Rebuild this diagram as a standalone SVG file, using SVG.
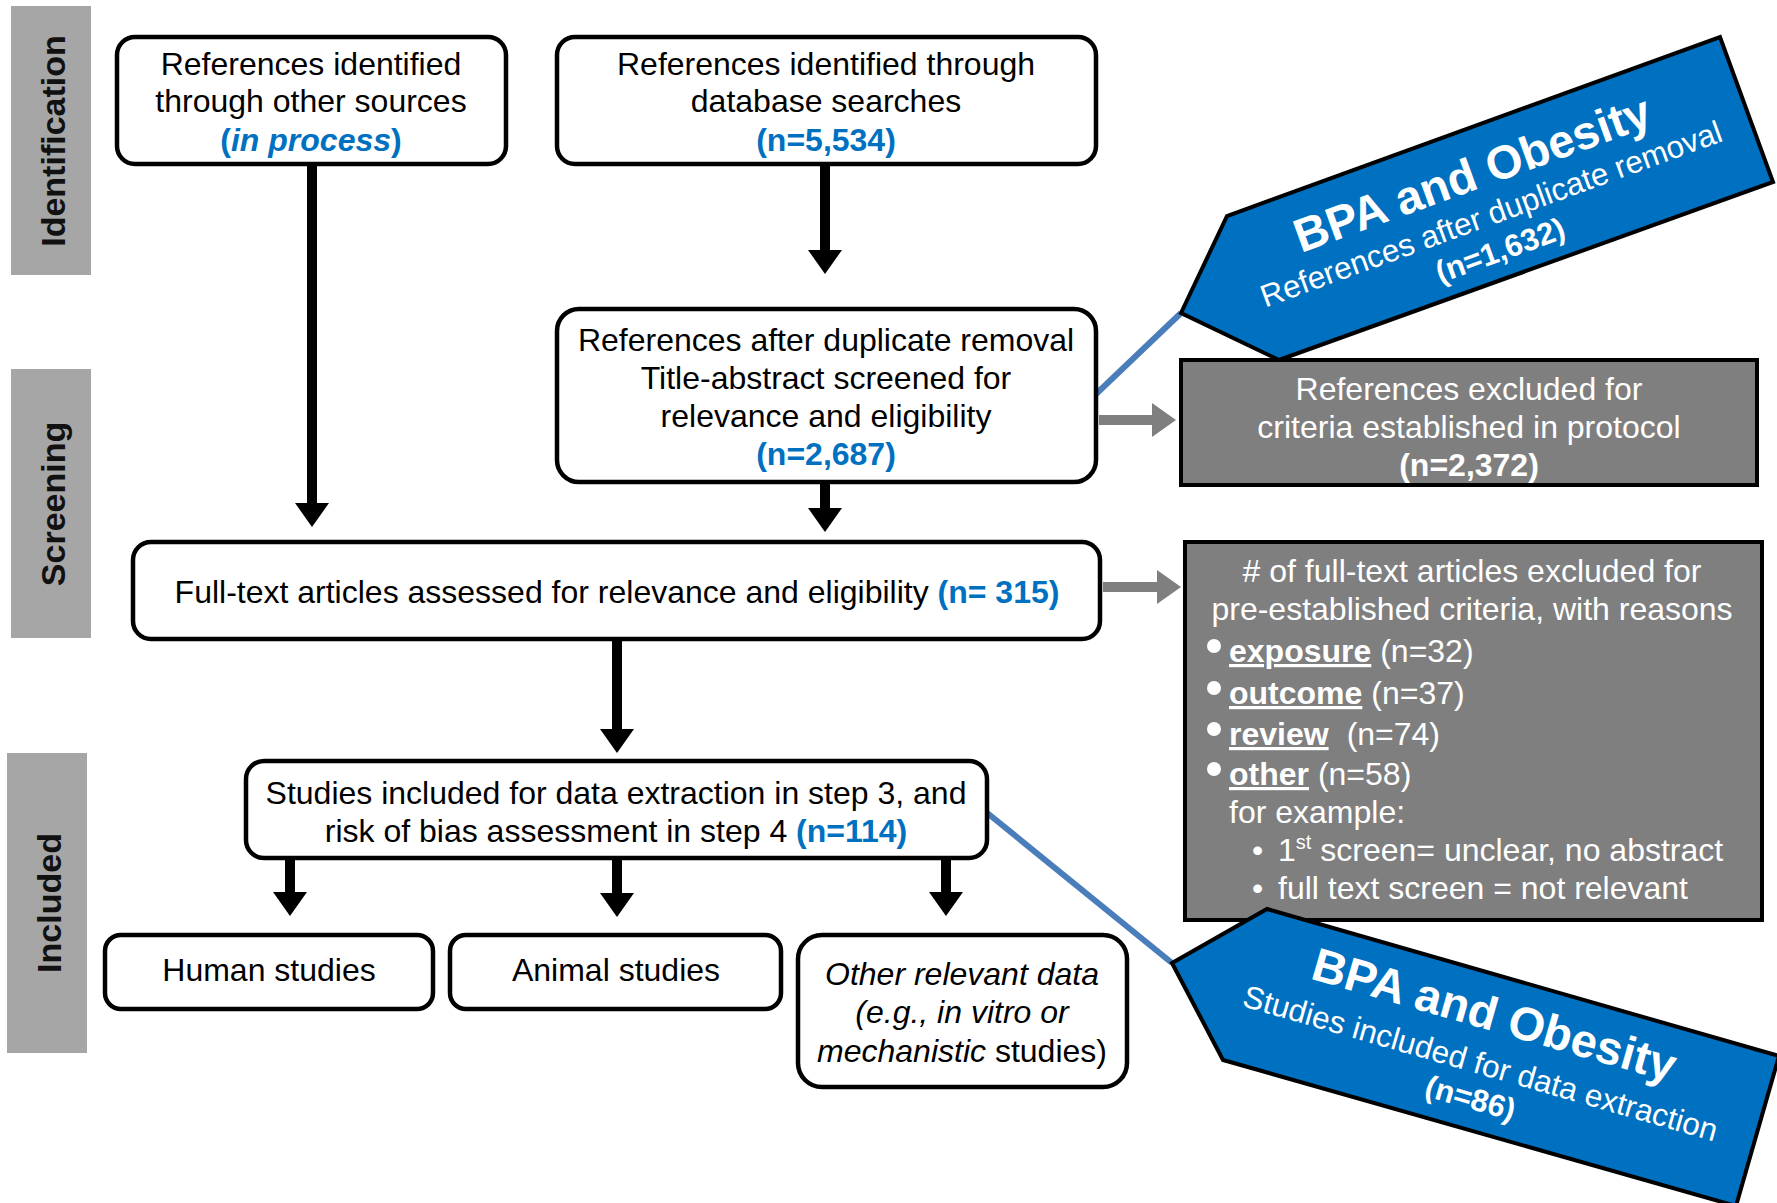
<svg xmlns="http://www.w3.org/2000/svg" width="1777" height="1203" viewBox="0 0 1777 1203">
<style>
text{font-family:"Liberation Sans",Arial,sans-serif;}
.box{fill:#fff;stroke:#000;stroke-width:4.5}
.lab{fill:#a6a6a6}
.labt{font-size:34px;font-weight:bold;fill:#111;text-anchor:middle}
.t{font-size:32px;fill:#000;text-anchor:middle}
.n{fill:#0070c0;font-weight:bold}
.exc{fill:#7f7f7f;stroke:#000;stroke-width:4}
.w{font-size:32px;fill:#fff}
.wc{text-anchor:middle}
.u{font-weight:bold;text-decoration:underline}
.tag{fill:#0070c0;stroke:#000;stroke-width:4;stroke-linejoin:miter}
.tt{fill:#fff;text-anchor:middle}
.ar{stroke:#000;stroke-width:10;fill:none;marker-end:url(#ah)}
.gr{stroke:#7f7f7f;stroke-width:10;fill:none;marker-end:url(#gh)}
.bl{stroke:#4a7ebb;stroke-width:6;fill:none}
</style>
<defs>
<marker id="ah" markerUnits="userSpaceOnUse" markerWidth="26" markerHeight="36" refX="0" refY="17" orient="auto" overflow="visible"><path d="M0,0 L24,17 L0,34 Z" fill="#000"/></marker>
<marker id="gh" markerUnits="userSpaceOnUse" markerWidth="26" markerHeight="36" refX="0" refY="17" orient="auto" overflow="visible"><path d="M0,0 L24,17 L0,34 Z" fill="#7f7f7f"/></marker>
</defs>

<g id="lab-identification"><rect class="lab" x="11" y="6" width="80" height="269"/><text class="labt" transform="translate(65,141) rotate(-90)">Identification</text></g>
<g id="lab-screening"><rect class="lab" x="11" y="369" width="80" height="269"/><text class="labt" transform="translate(65,504) rotate(-90)">Screening</text></g>
<g id="lab-included"><rect class="lab" x="7" y="753" width="80" height="300"/><text class="labt" transform="translate(61,903) rotate(-90)">Included</text></g>

<g id="connectors">
<line class="ar" x1="312" y1="164" x2="312" y2="503"/>
<line class="ar" x1="825" y1="164" x2="825" y2="250"/>
<line class="ar" x1="825" y1="482" x2="825" y2="508"/>
<line class="ar" x1="617" y1="639" x2="617" y2="729"/>
<line class="ar" x1="290" y1="858" x2="290" y2="892"/>
<line class="ar" x1="617" y1="858" x2="617" y2="893"/>
<line class="ar" x1="946" y1="858" x2="946" y2="892"/>
<line class="gr" x1="1099" y1="420" x2="1152" y2="420"/>
<line class="gr" x1="1103" y1="587" x2="1157" y2="587"/>
<line class="bl" x1="1095" y1="395" x2="1181" y2="313"/>
<line class="bl" x1="986" y1="812" x2="1172" y2="963"/>
</g>

<g id="box-other-sources"><rect class="box" x="117" y="37" width="389" height="127" rx="18"/>
<text class="t" x="311" y="75">References identified</text>
<text class="t" x="311" y="112">through other sources</text>
<text class="t" x="311" y="151"><tspan class="n">(</tspan><tspan class="n" font-style="italic">in process</tspan><tspan class="n">)</tspan></text></g>

<g id="box-database"><rect class="box" x="557" y="37" width="539" height="127" rx="18"/>
<text class="t" x="826" y="75">References identified through</text>
<text class="t" x="826" y="112">database searches</text>
<text class="t n" x="826" y="151">(n=5,534)</text></g>

<g id="box-duplicates"><rect class="box" x="557" y="309" width="539" height="173" rx="22"/>
<text class="t" x="826" y="351">References after duplicate removal</text>
<text class="t" x="826" y="389">Title-abstract screened for</text>
<text class="t" x="826" y="427">relevance and eligibility</text>
<text class="t n" x="826" y="465">(n=2,687)</text></g>

<g id="box-fulltext"><rect class="box" x="133" y="542" width="967" height="97" rx="18"/>
<text class="t" x="617" y="603">Full-text articles assessed for relevance and eligibility <tspan class="n">(n= 315)</tspan></text></g>

<g id="box-included"><rect class="box" x="246" y="761" width="741" height="97" rx="18"/>
<text class="t" x="616" y="804">Studies included for data extraction in step 3, and</text>
<text class="t" x="616" y="842">risk of bias assessment in step 4 <tspan class="n">(n=114)</tspan></text></g>

<g id="box-human"><rect class="box" x="105" y="935" width="328" height="74" rx="16"/>
<text class="t" x="269" y="981">Human studies</text></g>

<g id="box-animal"><rect class="box" x="450" y="935" width="331" height="74" rx="16"/>
<text class="t" x="616" y="981">Animal studies</text></g>

<g id="box-other"><rect class="box" x="798" y="935" width="329" height="152" rx="24"/>
<text class="t" x="962" y="985" font-style="italic">Other relevant data</text>
<text class="t" x="962" y="1023" font-style="italic">(e.g., in vitro or</text>
<text class="t" x="962" y="1062"><tspan font-style="italic">mechanistic</tspan> studies)</text></g>

<g id="box-excluded-1"><rect class="exc" x="1181" y="360" width="576" height="125"/>
<text class="w wc" x="1469" y="400">References excluded for</text>
<text class="w wc" x="1469" y="438">criteria established in protocol</text>
<text class="w wc" x="1469" y="476" font-weight="bold">(n=2,372)</text></g>

<g id="box-excluded-2"><rect class="exc" x="1185" y="542" width="577" height="378"/>
<text class="w wc" x="1472" y="582"># of full-text articles excluded for</text>
<text class="w wc" x="1472" y="620">pre-established criteria, with reasons</text>
<circle cx="1214" cy="646" r="7" fill="#fff"/>
<circle cx="1214" cy="688" r="7" fill="#fff"/>
<circle cx="1214" cy="729" r="7" fill="#fff"/>
<circle cx="1214" cy="769" r="7" fill="#fff"/>
<text class="w" x="1229" y="662"><tspan class="u">exposure</tspan> (n=32)</text>
<text class="w" x="1229" y="704"><tspan class="u">outcome</tspan> (n=37)</text>
<text class="w" x="1229" y="745"><tspan class="u">review</tspan><tspan dx="18">(n=74)</tspan></text>
<text class="w" x="1229" y="785"><tspan class="u">other</tspan> (n=58)</text>
<text class="w" x="1229" y="823">for example:</text>
<text class="w" x="1252" y="861">•</text>
<text class="w" x="1278" y="861">1<tspan font-size="20" dy="-12">st</tspan><tspan dy="12"> screen= unclear, no abstract</tspan></text>
<text class="w" x="1252" y="899">•</text>
<text class="w" x="1278" y="899">full text screen = not relevant</text></g>

<g id="tag-duplicates"><polygon class="tag" points="1181,313 1227,216 1720,37 1773,182 1279,360"/>
<g transform="translate(1488,217) rotate(-20)">
<text class="tt" x="0" y="-30" font-size="47" font-weight="bold">BPA and Obesity</text>
<text class="tt" x="4" y="9" font-size="31.5">References after duplicate removal</text>
<text class="tt" x="0" y="46" font-size="31" font-weight="bold">(n=1,632)</text></g></g>

<g id="tag-included"><polygon class="tag" points="1172,963 1267,909 1779,1056 1736,1206 1223,1060"/>
<g transform="translate(1480,1065) rotate(16)">
<text class="tt" x="0" y="-36" font-size="47" font-weight="bold">BPA and Obesity</text>
<text class="tt" x="0" y="9" font-size="31.5">Studies included for data extraction</text>
<text class="tt" x="0" y="45" font-size="31" font-weight="bold">(n=86)</text></g></g>
</svg>
